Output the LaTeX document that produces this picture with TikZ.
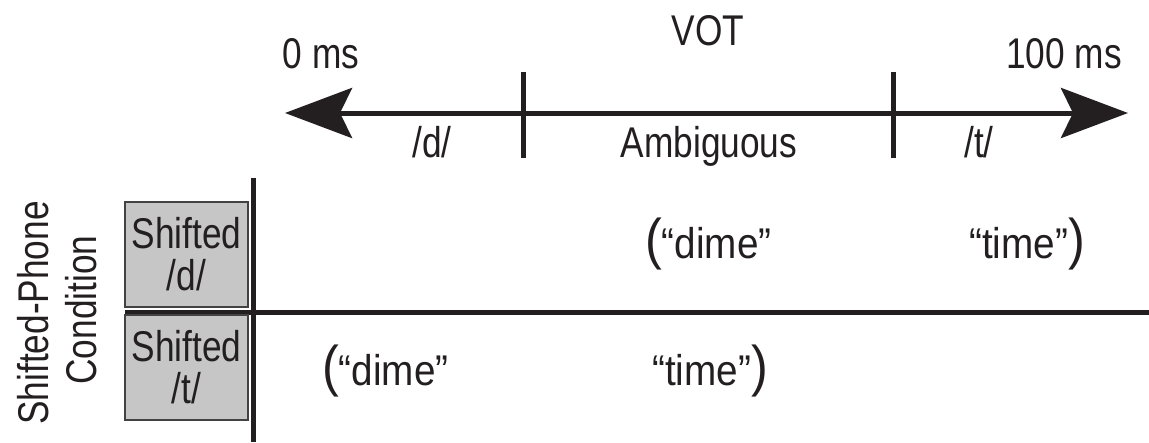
\documentclass[tikz,border=0pt]{standalone}
\usepackage{fontspec}
\setmainfont{Liberation Sans}[FakeStretch=0.82]
\newfontfamily\wordfont{Liberation Sans}[FakeStretch=0.9]
\usetikzlibrary{arrows.meta}
\definecolor{ink}{HTML}{231F20}
\definecolor{boxgray}{HTML}{C6C6C6}
% enlarged parenthesis around a word range
\newcommand\rangeparen[1]{{\fontsize{56}{56}\selectfont #1}}
\begin{document}
\begin{tikzpicture}[x=1pt,y=-1pt,
  txt/.style={inner sep=0pt, anchor=base, text=ink, font=\fontsize{43}{42}\selectfont},
  word/.style={txt, font=\wordfont\fontsize{43}{42}\selectfont},
  rule/.style={draw=ink, line width=5pt},
  axis/.style={draw=ink, line width=5pt,
    {Stealth[length=67pt,width=50pt,inset=12pt]}-{Stealth[length=67pt,width=50pt,inset=12pt]}},
  condbox/.style={draw=ink!85, line width=1.6pt, fill=boxgray, minimum width=123pt,
    minimum height=105pt, inner sep=0pt, align=center, text=ink,
    font=\fontsize{43}{42}\selectfont}]
\useasboundingbox (0,0) rectangle (1149,442);

% VOT axis with its two category boundaries
\coordinate (tipL) at (285,113);
\coordinate (tipR) at (1128,113);
\draw[axis] (tipL) -- (tipR);
\coordinate (b1top) at (523,72);
\coordinate (b1bot) at (523,158);
\coordinate (b2top) at (893,72);
\coordinate (b2bot) at (893,158);
\draw[rule] (b1top) -- (b1bot);
\draw[rule] (b2top) -- (b2bot);

% axis labels
\node[txt] (vot) at (708,45) {VOT};
\node[txt] (zero) at (321,68) {0 ms};
\node[txt] (hundred) at (1064,68) {100 ms};
\node[txt] (catd) at (432,157) {/d/};
\node[txt] (amb) at (709,157) {Ambiguous};
\node[txt] (catt) at (979,157) {/t/};

% table frame
\coordinate (vtop) at (253,178);
\coordinate (vbot) at (253,442);
\coordinate (hleft) at (125,312);
\coordinate (hright) at (1149,312);
\draw[rule] (vtop) -- (vbot);
\draw[rule] (hleft) -- (hright);

% condition boxes
\node[condbox] (shd) at (186.5,254.5) {Shifted\\/d/};
\node[condbox] (sht) at (186.5,367.5) {Shifted\\/t/};

% row heading
\node[txt, rotate=90] (phone) at (48,313) {Shifted-Phone};
\node[txt, rotate=90] (cond) at (96,310) {Condition};

% word ranges per condition
\node[word, anchor=base west] (d1) at (645,258) {\rangeparen{(}“dime”};
\node[word, anchor=base east] (t1) at (1085,258) {“time”\rangeparen{)}};
\node[word, anchor=base west] (d2) at (322,385) {\rangeparen{(}“dime”};
\node[word, anchor=base east] (t2) at (768,385) {“time”\rangeparen{)}};
\end{tikzpicture}
\end{document}
